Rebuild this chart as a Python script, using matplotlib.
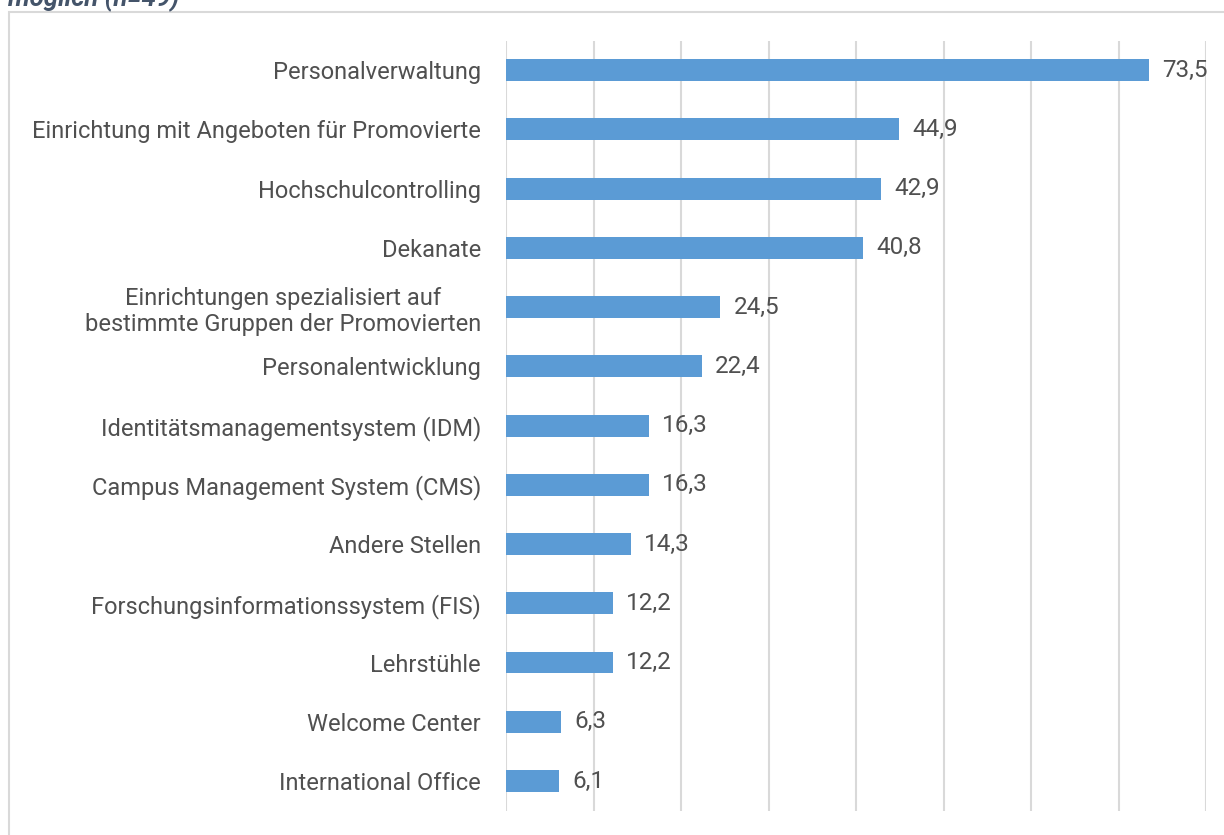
import matplotlib.pyplot as plt
from matplotlib.patches import Rectangle

categories = [
    "Personalverwaltung",
    "Einrichtung mit Angeboten für Promovierte",
    "Hochschulcontrolling",
    "Dekanate",
    "Einrichtungen spezialisiert auf\nbestimmte Gruppen der Promovierten",
    "Personalentwicklung",
    "Identitätsmanagementsystem (IDM)",
    "Campus Management System (CMS)",
    "Andere Stellen",
    "Forschungsinformationssystem (FIS)",
    "Lehrstühle",
    "Welcome Center",
    "International Office",
]
values = [73.5, 44.9, 42.9, 40.8, 24.5, 22.4, 16.3, 16.3, 14.3, 12.2, 12.2, 6.3, 6.1]
title = "möglich (n=49)"

plt.rcParams["font.family"] = ["Roboto", "DejaVu Sans"]
text_color = "#505050"

fig = plt.figure(figsize=(12.24, 8.35), dpi=100)
fig.patches.append(Rectangle((9 / 1224, -0.01), 1.02, 1 - 12 / 835 + 0.01,
                             transform=fig.transFigure, facecolor="none",
                             edgecolor="#d9d9d9", linewidth=1.5))
fig.text(8 / 1224, 1 - 6 / 835, title, fontsize=18.5, fontweight="bold",
         fontstyle="italic", color="#44546a", va="baseline", ha="left")

ax = fig.add_axes([506 / 1224, 1 - 810.6 / 835, 700 / 1224, 770 / 835])
y = list(range(len(categories)))
ax.barh(y, values, height=0.37, color="#5b9bd5", zorder=3)
for yi, v in zip(y, values):
    ax.text(v + 1.5, yi, f"{v:.1f}".replace(".", ","), va="center", ha="left",
            fontsize=17.5, color=text_color)

ax.set_xlim(0, 80)
ax.set_ylim(len(categories) - 0.5, -0.5)
ax.set_xticks(range(0, 81, 10))
ax.xaxis.grid(True, color="#d9d9d9", linewidth=1.5, zorder=0)
ax.tick_params(axis="x", length=0, labelbottom=False)
ax.set_yticks(y)
ax.set_yticklabels(categories, fontsize=17, color=text_color, multialignment="center")
ax.tick_params(axis="y", length=0, pad=18)
for s in ax.spines.values():
    s.set_visible(False)

plt.savefig("out.png", dpi=100)
plt.close()
